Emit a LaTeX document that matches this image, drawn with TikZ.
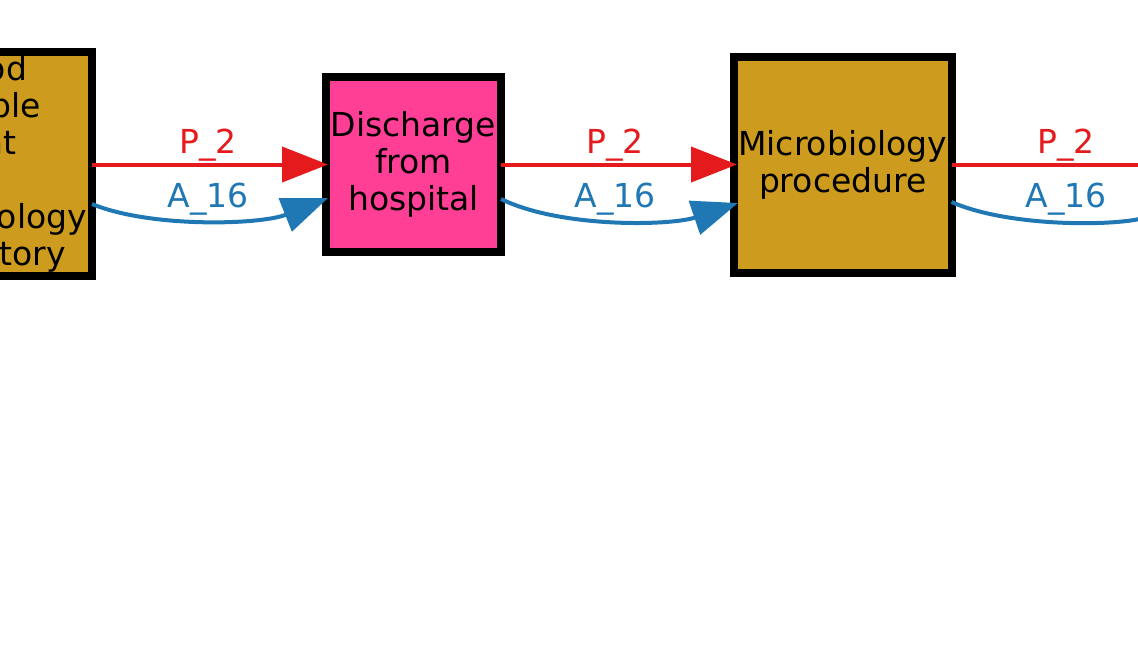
\documentclass[tikz,border=0pt]{standalone}
\usepackage{fontspec}
\setmainfont{DejaVu Sans}
\usetikzlibrary{arrows.meta}
\definecolor{goldbox}{HTML}{CD9B1D}
\definecolor{pinkbox}{HTML}{FF3E96}
\definecolor{ered}{HTML}{E41A1C}
\definecolor{eblue}{HTML}{1F77B4}
\begin{document}
\begin{tikzpicture}[x=1pt,y=-1pt,
  box/.style={rectangle,draw=black,line width=8pt,inner sep=0pt,outer sep=0pt,
    align=center,font=\fontsize{33}{37}\selectfont},
  redge/.style={draw=ered,line width=4pt,-{Triangle[length=46pt,width=35pt]}},
  bedge/.style={draw=eblue,line width=4pt,-{Triangle[length=46pt,width=35pt]}},
  rlab/.style={anchor=base,inner sep=0pt,text=ered,font=\fontsize{33}{37}\selectfont},
  blab/.style={anchor=base,inner sep=0pt,text=eblue,font=\fontsize{33}{37}\selectfont}]
\useasboundingbox (0,0) rectangle (1138,646);
\clip (0,0) rectangle (1138,646);
\fill[white] (0,0) rectangle (1138,646);
% nodes
\node[box,fill=goldbox,minimum width=223pt,minimum height=224.5pt] (L) at (-19.5,163.75)
  {Blood\\sample\\sent\\to\\microbiology\\laboratory};
\node[box,fill=pinkbox,minimum width=175pt,minimum height=175pt] (D) at (413.5,164.5)
  {Discharge\\from\\hospital};
\node[box,fill=goldbox,minimum width=217.5pt,minimum height=216pt] (M) at (842.75,164.5)
  {Microbiology\\procedure};
\coordinate (R) at (1190,164.5);
\coordinate (RB) at (1188,203);
% red edges
\draw[redge,shorten >=-2pt] (L.east |- D.west) -- (D.west);
\draw[redge,shorten >=-3pt] (D.east) -- (M.west);
\draw[redge] (M.east) -- (R);
% blue edges
\draw[bedge] ([yshift=-40.25pt]L.east) .. controls +(58,24) and +(-68,27) .. ([shift={(2pt,-33.5pt)}]D.west);
\draw[bedge] ([yshift=-34.5pt]D.east) .. controls +(59,29) and +(-68,23) .. ([shift={(4pt,-38.5pt)}]M.west);
\draw[bedge] ([yshift=-37.5pt]M.east) .. controls +(59,26) and +(-68,23) .. (RB);
% labels
\node[rlab] (p1) at (208,153) {P\_2};
\node[blab] (a1) at (208,207) {A\_16};
\node[rlab] (p2) at (615,153) {P\_2};
\node[blab] (a2) at (615,207) {A\_16};
\node[rlab] (p3) at (1066,153) {P\_2};
\node[blab] (a3) at (1066,207) {A\_16};
\end{tikzpicture}
\end{document}
